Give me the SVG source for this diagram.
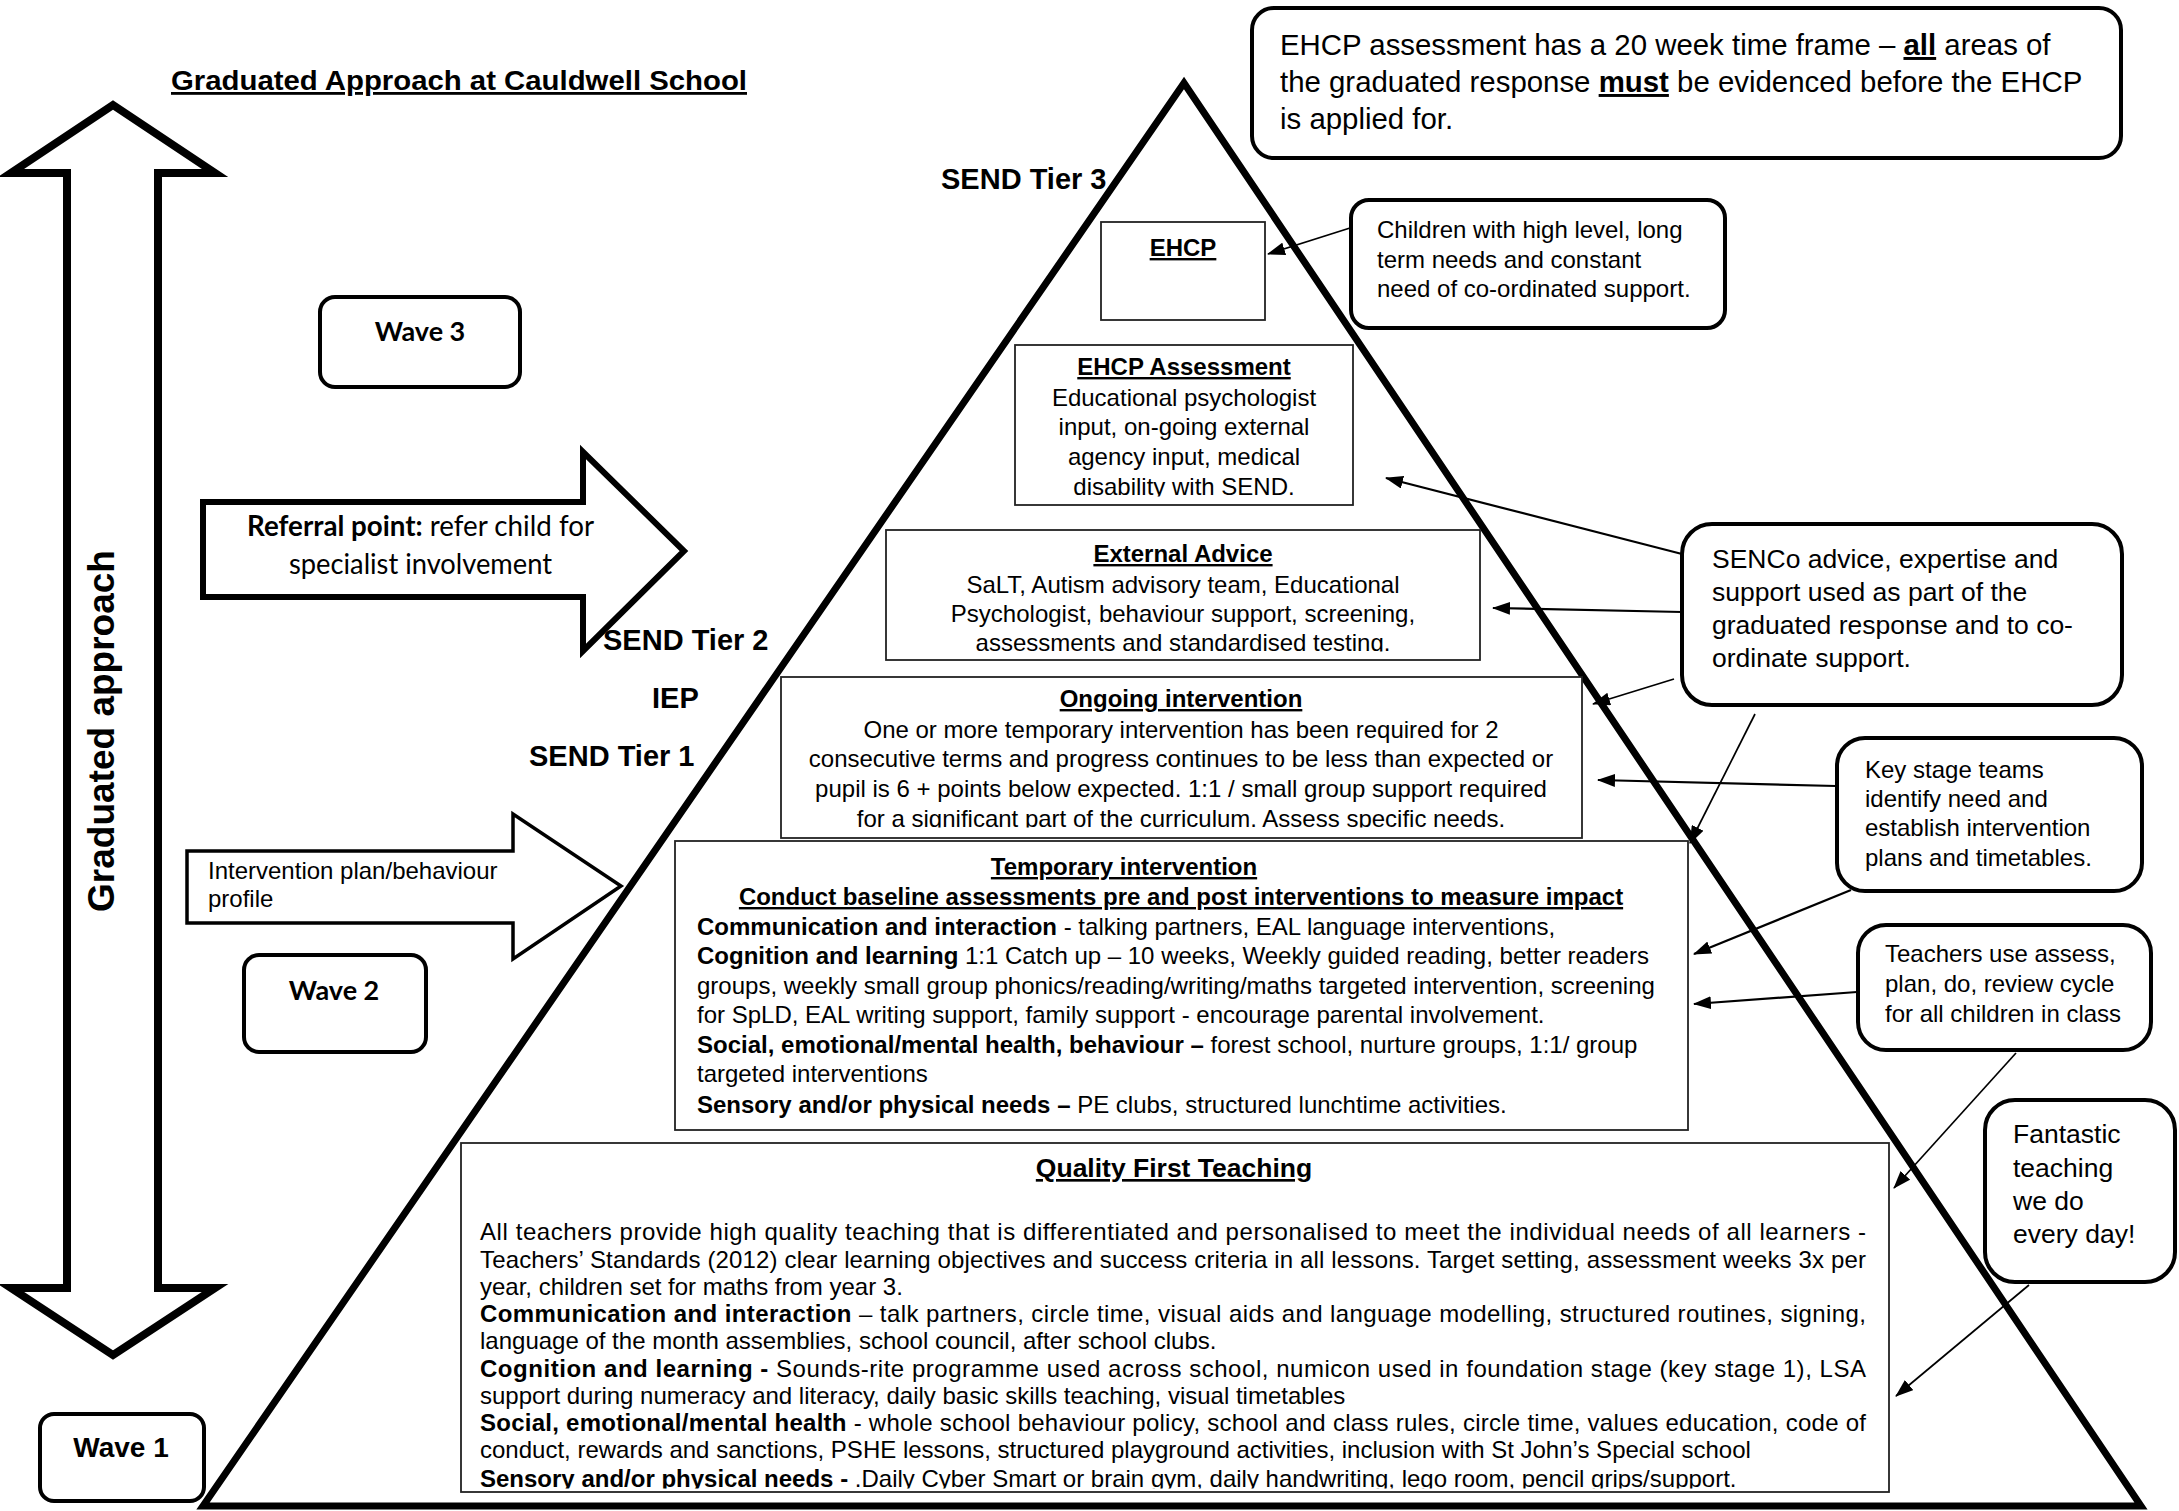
<svg xmlns="http://www.w3.org/2000/svg" width="2179" height="1511" viewBox="0 0 2179 1511">
<style>
  text { font-family: "Liberation Sans", Arial, sans-serif; font-size: 24px; fill: #000; }
  .b { font-weight: bold; }
  .u { text-decoration: underline; }
  .c { text-anchor: middle; }
  .cal { font-family: Lato, "Liberation Sans", sans-serif; }
  .rbox { fill: #fff; stroke: #000; stroke-width: 4; }
  .box { fill: #fff; stroke: #222; stroke-width: 1.8; }
  .blk { fill: #fff; stroke: #000; stroke-linejoin: miter; }
  .con { stroke: #000; stroke-width: 2.2; fill: none; marker-end: url(#ah); }
  .thin { stroke-width: 1.7; }
</style>
<defs>
  <marker id="ah" markerWidth="18" markerHeight="13" refX="17" refY="6.5" orient="auto" markerUnits="userSpaceOnUse">
    <path d="M0,0 L18,6.5 L0,13 z" fill="#000"/>
  </marker>
  <clipPath id="clipAssess"><rect x="1015" y="345" width="338" height="151.5"/></clipPath>
  <clipPath id="clipExt"><rect x="886" y="530" width="594" height="121.5"/></clipPath>
  <clipPath id="clipOngo"><rect x="781" y="677" width="801" height="150.5"/></clipPath>
  <clipPath id="clipQft"><rect x="461" y="1143" width="1428" height="345.5"/></clipPath>
</defs>
<rect width="2179" height="1511" fill="#fff"/>

<g id="title">
  <text x="171" y="90" class="b u" style="font-size:28px" textLength="576" lengthAdjust="spacingAndGlyphs">Graduated Approach at Cauldwell School</text>
</g>

<g id="graduated-arrow">
  <polygon class="blk" stroke-width="8" points="113,105 215,173 158,173 158,1288 215,1288 113,1355 11,1288 67,1288 67,173 11,173"/>
  <text class="b c" style="font-size:37px" transform="translate(114,731) rotate(-90)">Graduated approach</text>
</g>

<g id="pyramid">
  <polygon class="blk" stroke-width="7" points="1184,83 2141,1506 203,1506"/>
</g>

<g id="wave3">
  <rect class="rbox" x="320" y="297" width="200" height="90" rx="15" stroke-width="4.5"/>
  <text class="cal b c" x="420" y="341" style="font-size:27px">Wave 3</text>
</g>
<g id="wave2">
  <rect class="rbox" x="244" y="955" width="182" height="97" rx="15" stroke-width="5"/>
  <text class="cal b c" x="334" y="1000" style="font-size:27px">Wave 2</text>
</g>
<g id="wave1">
  <rect class="rbox" x="40" y="1414" width="164" height="87" rx="14"/>
  <text class="b c" x="121" y="1457" style="font-size:28px">Wave 1</text>
</g>

<g id="referral-arrow">
  <polygon class="blk" stroke-width="6" points="203,502 583,502 583,452 684,551 583,651 583,597 203,597"/>
  <text class="cal" x="247" y="536" style="font-size:28px" textLength="347" lengthAdjust="spacingAndGlyphs"><tspan class="b">Referral point:</tspan> refer child for</text>
  <text class="cal" x="289" y="574" style="font-size:28px" textLength="263" lengthAdjust="spacingAndGlyphs">specialist involvement</text>
</g>

<g id="intervention-arrow">
  <polygon class="blk" stroke-width="3.5" points="187,851 513,851 513,814 621,886 513,959 513,923 187,923"/>
  <text x="208" y="879">Intervention plan/behaviour</text>
  <text x="208" y="907">profile</text>
</g>

<g id="send-labels">
  <text class="b" x="941" y="189" style="font-size:29px">SEND Tier 3</text>
  <text class="b" x="603" y="650" style="font-size:29px">SEND Tier 2</text>
  <text class="b" x="652" y="708" style="font-size:29px">IEP</text>
  <text class="b" x="529" y="766" style="font-size:29px">SEND Tier 1</text>
</g>

<g id="ehcp-note">
  <rect class="rbox" x="1252" y="8" width="869" height="150" rx="22" stroke-width="5"/>
  <text x="1280" y="55" style="font-size:29.4px">EHCP assessment has a 20 week time frame – <tspan class="b u">all</tspan> areas of</text>
  <text x="1280" y="92" style="font-size:29.4px">the graduated response <tspan class="b u">must</tspan> be evidenced before the EHCP</text>
  <text x="1280" y="129" style="font-size:29.4px">is applied for.</text>
</g>

<g id="ehcp">
  <rect class="box" x="1101" y="222" width="164" height="98"/>
  <text class="b u c" x="1183" y="256">EHCP</text>
</g>

<g id="ehcp-assessment">
  <rect class="box" x="1015" y="345" width="338" height="160"/>
  <g clip-path="url(#clipAssess)">
    <text class="b u c" x="1184" y="375">EHCP Assessment</text>
    <text class="c" x="1184" y="406">Educational psychologist</text>
    <text class="c" x="1184" y="435">input, on-going external</text>
    <text class="c" x="1184" y="465">agency input, medical</text>
    <text class="c" x="1184" y="495">disability with SEND.</text>
  </g>
</g>

<g id="external-advice">
  <rect class="box" x="886" y="530" width="594" height="130"/>
  <g clip-path="url(#clipExt)">
    <text class="b u c" x="1183" y="562">External Advice</text>
    <text class="c" x="1183" y="593">SaLT, Autism advisory team, Educational</text>
    <text class="c" x="1183" y="622">Psychologist, behaviour support, screening,</text>
    <text class="c" x="1183" y="650.5">assessments and standardised testing.</text>
  </g>
</g>

<g id="ongoing-intervention">
  <rect class="box" x="781" y="677" width="801" height="161"/>
  <g clip-path="url(#clipOngo)">
    <text class="b u c" x="1181" y="707">Ongoing intervention</text>
    <text class="c" x="1181" y="738">One or more temporary intervention has been required for 2</text>
    <text class="c" x="1181" y="767">consecutive terms and progress continues to be less than expected or</text>
    <text class="c" x="1181" y="797">pupil is 6 + points below expected. 1:1 / small group support required</text>
    <text class="c" x="1181" y="826.5">for a significant part of the curriculum. Assess specific needs.</text>
  </g>
</g>

<g id="temporary-intervention">
  <rect class="box" x="675" y="841" width="1013" height="289" stroke="#000" stroke-width="3.5"/>
  <text class="b u c" x="1124" y="875">Temporary intervention</text>
  <text class="b u c" x="1181" y="905">Conduct baseline assessments pre and post interventions to measure impact</text>
  <text x="697" y="935"><tspan class="b">Communication and interaction</tspan> - talking partners, EAL language interventions,</text>
  <text x="697" y="964"><tspan class="b">Cognition and learning</tspan> 1:1 Catch up – 10 weeks, Weekly guided reading, better readers</text>
  <text x="697" y="994">groups, weekly small group phonics/reading/writing/maths targeted intervention, screening</text>
  <text x="697" y="1023">for SpLD, EAL writing support, family support - encourage parental involvement.</text>
  <text x="697" y="1053"><tspan class="b">Social, emotional/mental health, behaviour –</tspan> forest school, nurture groups, 1:1/ group</text>
  <text x="697" y="1082">targeted interventions</text>
  <text x="697" y="1113"><tspan class="b">Sensory and/or physical needs –</tspan> PE clubs, structured lunchtime activities.</text>
</g>

<g id="quality-first-teaching">
  <rect class="box" x="461" y="1143" width="1428" height="349" stroke-width="2"/>
  <text class="b u c" x="1174" y="1177" style="font-size:26.5px">Quality First Teaching</text>
  <g clip-path="url(#clipQft)">
    <text x="480" y="1240" textLength="1386" lengthAdjust="spacing">All teachers provide high quality teaching that is differentiated and personalised to meet the individual needs of all learners -</text>
    <text x="480" y="1268" textLength="1386" lengthAdjust="spacing">Teachers’ Standards (2012) clear learning objectives and success criteria in all lessons. Target setting, assessment weeks 3x per</text>
    <text x="480" y="1295">year, children set for maths from year 3.</text>
    <text x="480" y="1322" textLength="1386" lengthAdjust="spacing"><tspan class="b">Communication and interaction</tspan> – talk partners, circle time, visual aids and language modelling, structured routines, signing,</text>
    <text x="480" y="1349">language of the month assemblies, school council, after school clubs.</text>
    <text x="480" y="1377" textLength="1386" lengthAdjust="spacing"><tspan class="b">Cognition and learning -</tspan> Sounds-rite programme used across school, numicon used in foundation stage (key stage 1),  LSA</text>
    <text x="480" y="1404">support during numeracy and literacy, daily basic skills teaching, visual timetables</text>
    <text x="480" y="1431" textLength="1386" lengthAdjust="spacing"><tspan class="b">Social, emotional/mental health</tspan> -  whole school behaviour policy, school and class rules, circle time, values education, code of</text>
    <text x="480" y="1458">conduct, rewards and sanctions, PSHE lessons, structured playground activities, inclusion with St John’s Special school</text>
    <text x="480" y="1487"><tspan class="b">Sensory and/or physical needs -</tspan> .Daily Cyber Smart or brain gym, daily handwriting, lego room, pencil grips/support.</text>
  </g>
</g>

<g id="children-note">
  <rect class="rbox" x="1351" y="200" width="374" height="128" rx="18"/>
  <text x="1377" y="238">Children with high level, long</text>
  <text x="1377" y="268">term needs and constant</text>
  <text x="1377" y="297">need of co-ordinated support.</text>
</g>

<g id="senco-note">
  <rect class="rbox" x="1682" y="524" width="440" height="181" rx="30"/>
  <text x="1712" y="568" style="font-size:26.5px">SENCo advice, expertise and</text>
  <text x="1712" y="601" style="font-size:26.5px">support used as part of the</text>
  <text x="1712" y="634" style="font-size:26.5px">graduated response and to co-</text>
  <text x="1712" y="667" style="font-size:26.5px">ordinate support.</text>
</g>

<g id="keystage-note">
  <rect class="rbox" x="1837" y="738" width="305" height="153" rx="28"/>
  <text x="1865" y="778">Key stage teams</text>
  <text x="1865" y="807">identify need and</text>
  <text x="1865" y="836">establish intervention</text>
  <text x="1865" y="866">plans and timetables.</text>
</g>

<g id="teachers-note">
  <rect class="rbox" x="1858" y="925" width="293" height="125" rx="28"/>
  <text x="1885" y="962">Teachers use assess,</text>
  <text x="1885" y="992">plan, do, review cycle</text>
  <text x="1885" y="1022">for all children in class</text>
</g>

<g id="fantastic-note">
  <rect class="rbox" x="1985" y="1100" width="190" height="182" rx="30"/>
  <text x="2013" y="1143" style="font-size:26.5px">Fantastic</text>
  <text x="2013" y="1177" style="font-size:26.5px">teaching</text>
  <text x="2013" y="1210" style="font-size:26.5px">we do</text>
  <text x="2013" y="1243" style="font-size:26.5px">every day!</text>
</g>

<g id="connectors">
  <line class="con thin" x1="1350" y1="228" x2="1268" y2="254"/>
  <line class="con" x1="1682" y1="554" x2="1386" y2="478"/>
  <line class="con" x1="1682" y1="612" x2="1493" y2="608"/>
  <line class="con thin" x1="1674" y1="679" x2="1593" y2="704"/>
  <line class="con thin" x1="1755" y1="714" x2="1690" y2="843"/>
  <line class="con" x1="1836" y1="786" x2="1598" y2="780"/>
  <line class="con" x1="1851" y1="890" x2="1694" y2="954"/>
  <line class="con" x1="1857" y1="992" x2="1694" y2="1004"/>
  <line class="con thin" x1="2016" y1="1053" x2="1894" y2="1188"/>
  <line class="con thin" x1="2029" y1="1285" x2="1896" y2="1396"/>
</g>
</svg>
